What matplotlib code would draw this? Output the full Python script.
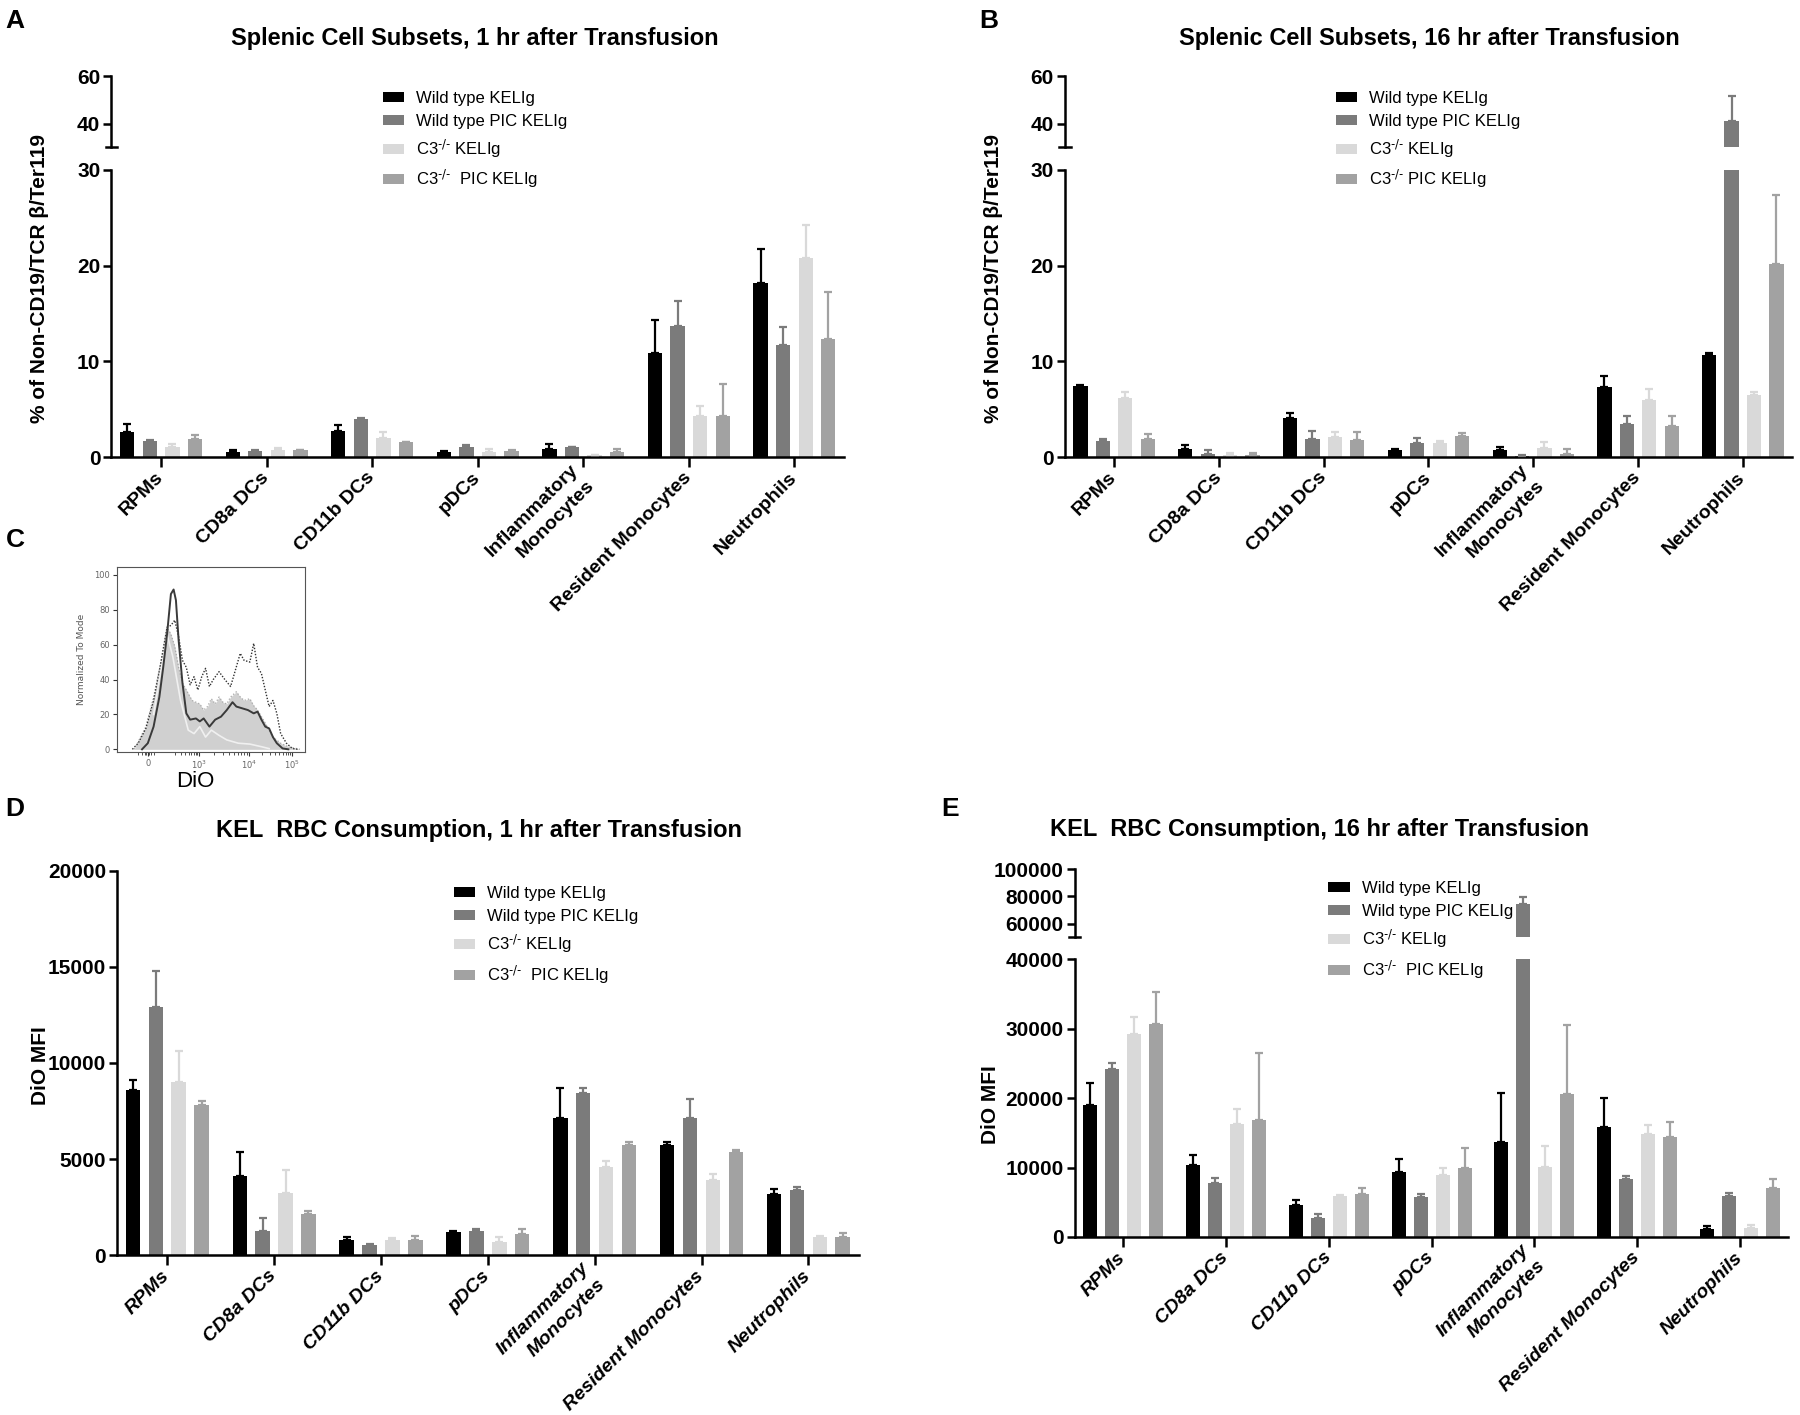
import numpy as np
import matplotlib
matplotlib.use('Agg')
import matplotlib.pyplot as plt
from matplotlib.patches import Patch

plt.rcParams['mathtext.default'] = 'regular'
NARROW = ['Liberation Sans Narrow', 'Liberation Sans', 'DejaVu Sans']
ARIAL = ['Liberation Sans', 'DejaVu Sans']

# ---- data ----
cells = ['RPMs', 'CD8a DCs', 'CD11b DCs', 'pDCs', 'Inflammatory\nMonocytes',
         'Resident Monocytes', 'Neutrophils']
colors = ['#000000', '#7b7b7b', '#d9d9d9', '#a2a2a2']

# A: % of non-CD19/TCRb/Ter119, 1 hr
a_wt = [2.58, 0.56, 2.69, 0.52, 0.80, 10.9, 18.2]
a_wt_err = [0.87, 0.21, 0.66, 0.11, 0.60, 3.4, 3.56]
a_wtpic = [1.64, 0.63, 4.0, 1.01, 1.01, 13.7, 11.7]
a_wtpic_err = [0.11, 0.07, 0.1, 0.21, 0.09, 2.55, 1.87]
a_c3 = [1.05, 0.77, 1.95, 0.56, 0.2, 4.33, 20.8]
a_c3_err = [0.31, 0.13, 0.63, 0.24, 0.02, 1.04, 3.4]
a_c3pic = [1.88, 0.7, 1.53, 0.66, 0.49, 4.33, 12.3]
a_c3pic_err = [0.46, 0.03, 0.07, 0.04, 0.35, 3.34, 4.97]

# B: % of non-CD19/TCRb/Ter119, 16 hr
b_wt = [7.39, 0.87, 4.12, 0.73, 0.70, 7.32, 10.67]
b_wt_err = [0.18, 0.35, 0.45, 0.07, 0.35, 1.12, 0.21]
b_wtpic = [1.64, 0.35, 1.88, 1.43, 0.14, 3.49, 41.1]
b_wtpic_err = [0.24, 0.35, 0.88, 0.52, 0.06, 0.84, 10.5]
b_c3 = [6.14, 0.24, 2.09, 1.46, 0.90, 5.93, 6.45]
b_c3_err = [0.66, 0.18, 0.56, 0.25, 0.63, 1.22, 0.35]
b_c3pic = [1.92, 0.20, 1.74, 2.16, 0.35, 3.28, 20.2]
b_c3pic_err = [0.45, 0.18, 0.88, 0.39, 0.45, 0.98, 7.2]

# D: DiO MFI, 1 hr
d_wt = [8570, 4105, 821, 1221, 7158, 5726, 3200]
d_wt_err = [525, 1245, 126, 42, 1516, 190, 232]
d_wtpic = [12926, 1263, 526, 1242, 8463, 7158, 3410]
d_wtpic_err = [1854, 674, 42, 105, 211, 947, 148]
d_c3 = [8990, 3263, 779, 716, 4568, 3916, 968]
d_c3_err = [1620, 1200, 105, 252, 358, 337, 42]
d_c3pic = [7830, 2147, 821, 1137, 5747, 5347, 968]
d_c3pic_err = [210, 148, 169, 252, 127, 127, 190]

# E: DiO MFI, 16 hr
e_wt = [19000, 10400, 4560, 9415, 13740, 15900, 1110]
e_wt_err = [3200, 1400, 820, 1815, 6960, 4160, 530]
e_wtpic = [24150, 7720, 2800, 5730, 74290, 8300, 5850]
e_wtpic_err = [880, 760, 530, 530, 4950, 470, 470]
e_c3 = [29240, 16200, 5850, 8890, 10120, 14800, 1230]
e_c3_err = [2460, 2160, 170, 1050, 2980, 1280, 470]
e_c3pic = [30700, 16780, 6260, 9940, 20640, 14440, 7080]
e_c3pic_err = [4560, 9650, 760, 2930, 9890, 2160, 1220]

# C: DiO histogram overlay (channel position, % of mode)
fill_x = [45, 75, 95, 115, 130, 140, 150, 160, 170, 185, 195, 205, 215, 225, 235, 245, 255,
          265, 275, 285, 295, 310, 320, 330, 345, 355, 365, 385, 405, 425, 445, 465, 475]
fill_y = [0, 13, 30, 51, 70, 66, 59, 47, 38, 32, 28, 27, 26, 22.5, 24.5, 29, 26,
          30, 27, 26, 30, 33, 30, 28, 29, 25, 22.5, 15, 7, 3.5, 1.5, 0.5, 0]
solid_x = [65, 80, 95, 110, 120, 130, 140, 147, 153, 160, 170, 180, 190, 205, 215, 225, 240,
           255, 270, 285, 300, 310, 325, 340, 355, 365, 375, 385, 395, 405, 415, 430, 445]
solid_y = [0, 3.5, 13, 30, 47, 66, 89, 91.6, 85.5, 62.6, 38, 20.6, 17, 17.7, 16, 17.7, 13,
           17, 18.7, 22.5, 27, 24.5, 23.5, 22.5, 20.6, 21.6, 17, 13, 12, 7, 3.5, 0.5, 0]
dotted_x = [40, 55, 75, 95, 115, 130, 140, 150, 160, 170, 180, 190, 200, 210, 220, 230, 240, 250,
            265, 280, 295, 305, 320, 330, 345, 355, 365, 375, 385, 395, 405, 415, 425, 440, 455, 470]
dotted_y = [0, 3.5, 12, 28, 51, 70, 71, 74, 64.5, 51, 47, 37, 41.6, 34, 41.6, 46.4, 36, 40,
            44.5, 40, 36, 43.5, 55, 51, 50, 60.7, 47, 43.5, 34, 24.5, 28, 20.6, 9, 3.5, 0.5, 0]
light_x = [95, 115, 130, 145, 165, 185, 200, 215, 230, 245, 265, 285, 315, 345, 375, 395]
light_y = [20, 47, 66, 53, 28, 11, 9, 13, 7, 11, 8, 5.4, 3.5, 3, 1.5, 0.4]
c_tick_pos = [80, 213, 343, 455]
c_tick_lab = ['0', '10$^3$', '10$^4$', '10$^5$']

W, H = 18, 14.15
fig = plt.figure(figsize=(W, H), dpi=100)


def draw_bars(ax, means, errs):
    x = np.arange(len(cells))
    for i, (m, e) in enumerate(zip(means, errs)):
        pos = x + (i - 1.5) * 0.214
        ax.bar(pos, m, width=0.136, color=colors[i], zorder=2)
        ax.errorbar(pos, m, yerr=[np.zeros(len(m)), e], fmt='none', ecolor=colors[i],
                    elinewidth=1.6, capsize=3, capthick=1.6, zorder=3)
    ax.set_xlim(-0.47, len(cells) - 0.53)


def style_low(ax, yticks, ylim, italic):
    ax.set_ylim(*ylim)
    for s in ['top', 'right']:
        ax.spines[s].set_visible(False)
    for s in ['left', 'bottom']:
        ax.spines[s].set_linewidth(1.8)
    ax.set_yticks(yticks, [str(t) for t in yticks], family=NARROW, fontweight='bold', fontsize=15)
    ax.set_xticks(np.arange(len(cells)), cells, rotation=45, ha='right', va='center',
                  rotation_mode='anchor', multialignment='right', linespacing=1.45,
                  family=ARIAL, fontstyle='italic' if italic else 'normal',
                  fontweight='bold', fontsize=14)
    ax.tick_params(axis='y', direction='out', width=1.8, length=6, pad=2)
    ax.tick_params(axis='x', direction='out', width=1.8, length=7, pad=6)


def style_up(ax, yticks, ylim):
    ax.set_ylim(*ylim)
    for s in ['top', 'right', 'bottom']:
        ax.spines[s].set_visible(False)
    ax.spines['left'].set_linewidth(1.8)
    ax.set_xticks([])
    ax.set_yticks(yticks, [str(t) for t in yticks], family=NARROW, fontweight='bold', fontsize=15)
    ax.tick_params(axis='y', direction='out', width=1.8, length=6, pad=2)
    # break mark at the bottom of the upper segment
    ax.plot([-0.008, 0.008], [0, 0], transform=ax.transAxes, color='black', lw=1.8, clip_on=False)


def add_legend(ax, x, ytop, c3pic_label):
    handles = [Patch(facecolor=c, edgecolor='none') for c in colors]
    labels = ['Wild type KELIg', 'Wild type PIC KELIg', r'C3$^{\text{-/-}}$ KELIg', c3pic_label]
    ax.legend(handles, labels, loc='upper left', bbox_to_anchor=(x, ytop),
              bbox_transform=fig.transFigure, frameon=False, borderpad=0, borderaxespad=0,
              handlelength=1.3, handleheight=0.55, handletextpad=0.7, labelspacing=0.5,
              prop=dict(family=NARROW, size=12))


title_kw = dict(family=NARROW, fontweight='bold', fontsize=17, ha='center', va='center')
panel_kw = dict(family=ARIAL, fontweight='bold', fontsize=19, ha='left', va='center')
ylab_kw = dict(family=ARIAL, fontweight='bold', fontsize=15, rotation=90, ha='center', va='center')

# ---- panel A ----
a_means = [a_wt, a_wtpic, a_c3, a_c3pic]
a_errs = [a_wt_err, a_wtpic_err, a_c3_err, a_c3pic_err]
axA = fig.add_axes([0.0619, 0.677, 0.407, 0.203])
axA_up = fig.add_axes([0.0619, 0.896, 0.407, 0.050])
for ax in (axA, axA_up):
    draw_bars(ax, a_means, a_errs)
style_low(axA, [0, 10, 20, 30], (0, 30), italic=False)
style_up(axA_up, [40, 60], (30, 60))
add_legend(axA_up, 0.2125, 0.936, r'C3$^{\text{-/-}}$  PIC KELIg')
fig.text(0.264, 0.973, 'Splenic Cell Subsets, 1 hr after Transfusion', **title_kw)
fig.text(0.022, 0.803, '% of Non-CD19/TCR β/Ter119', **ylab_kw)
fig.text(0.003, 0.985, 'A', **panel_kw)

# ---- panel B ----
b_means = [b_wt, b_wtpic, b_c3, b_c3pic]
b_errs = [b_wt_err, b_wtpic_err, b_c3_err, b_c3pic_err]
axB = fig.add_axes([0.5916, 0.677, 0.404, 0.203])
axB_up = fig.add_axes([0.5916, 0.896, 0.404, 0.050])
for ax in (axB, axB_up):
    draw_bars(ax, b_means, b_errs)
style_low(axB, [0, 10, 20, 30], (0, 30), italic=False)
style_up(axB_up, [40, 60], (30, 60))
add_legend(axB_up, 0.742, 0.936, r'C3$^{\text{-/-}}$ PIC KELIg')
fig.text(0.794, 0.973, 'Splenic Cell Subsets, 16 hr after Transfusion', **title_kw)
fig.text(0.552, 0.803, '% of Non-CD19/TCR β/Ter119', **ylab_kw)
fig.text(0.544, 0.985, 'B', **panel_kw)

# ---- panel C ----
axC = fig.add_axes([0.065, 0.4686, 0.1044, 0.1307])
axC.fill_between(fill_x, fill_y, color='#d0d0d0', lw=0, zorder=1)
axC.plot(fill_x, fill_y, color='#a8a8a8', lw=0.9, ls=':', zorder=2)
axC.plot(light_x, light_y, color='#f0f0f0', lw=1.2, zorder=3)
axC.plot(dotted_x, dotted_y, color='#303030', lw=1.0, ls=(0, (1, 1.2)), zorder=4)
axC.plot(solid_x, solid_y, color='#3a3a3a', lw=1.4, zorder=5)
axC.set_xlim(0, 488)
axC.set_ylim(-1.5, 104.5)
for s in axC.spines.values():
    s.set_color('#555555')
    s.set_linewidth(0.8)
axC.set_yticks(range(0, 101, 20), [str(v) for v in range(0, 101, 20)], fontsize=6, color='#666666')
axC.set_xticks(c_tick_pos, c_tick_lab, fontsize=6, color='#666666')
minor = [80 + k for k in (-25, -15, -8, -4, 4, 8, 15)]
minor += list(123 + np.log10(np.arange(2, 10)) * 90)
minor += list(213 + np.log10(np.arange(2, 10)) * 130)
minor += list(343 + np.log10(np.arange(2, 10)) * 112)
axC.set_xticks(minor, minor=True)
axC.tick_params(axis='both', which='major', length=3, width=0.8, color='#333333', pad=2)
axC.tick_params(axis='x', which='minor', length=2, width=0.6, color='#333333')
axC.set_ylabel('Normalized To Mode', fontsize=6.5, color='#555555', labelpad=6)
fig.text(0.1085, 0.448, 'DiO', family=ARIAL, fontsize=16, ha='center', va='center')
fig.text(0.003, 0.6185, 'C', **panel_kw)

# ---- panel D ----
d_means = [d_wt, d_wtpic, d_c3, d_c3pic]
d_errs = [d_wt_err, d_wtpic_err, d_c3_err, d_c3pic_err]
axD = fig.add_axes([0.065, 0.1128, 0.412, 0.272])
draw_bars(axD, d_means, d_errs)
style_low(axD, [0, 5000, 10000, 15000, 20000], (0, 20000), italic=True)
add_legend(axD, 0.252, 0.374, r'C3$^{\text{-/-}}$  PIC KELIg')
fig.text(0.266, 0.413, 'KEL  RBC Consumption, 1 hr after Transfusion', **title_kw)
fig.text(0.0223, 0.247, 'DiO MFI', **ylab_kw)
fig.text(0.003, 0.428, 'D', **panel_kw)

# ---- panel E ----
e_means = [e_wt, e_wtpic, e_c3, e_c3pic]
e_errs = [e_wt_err, e_wtpic_err, e_c3_err, e_c3pic_err]
axE = fig.add_axes([0.597, 0.1258, 0.3966, 0.1964])
axE_up = fig.add_axes([0.597, 0.3377, 0.3966, 0.048])
for ax in (axE, axE_up):
    draw_bars(ax, e_means, e_errs)
style_low(axE, [0, 10000, 20000, 30000, 40000], (0, 40000), italic=True)
style_up(axE_up, [60000, 80000, 100000], (50000, 100000))
add_legend(axE_up, 0.738, 0.3775, r'C3$^{\text{-/-}}$  PIC KELIg')
fig.text(0.733, 0.414, 'KEL  RBC Consumption, 16 hr after Transfusion', **title_kw)
fig.text(0.550, 0.219, 'DiO MFI', **ylab_kw)
fig.text(0.523, 0.428, 'E', **panel_kw)

fig.savefig('out.png', dpi=100)
